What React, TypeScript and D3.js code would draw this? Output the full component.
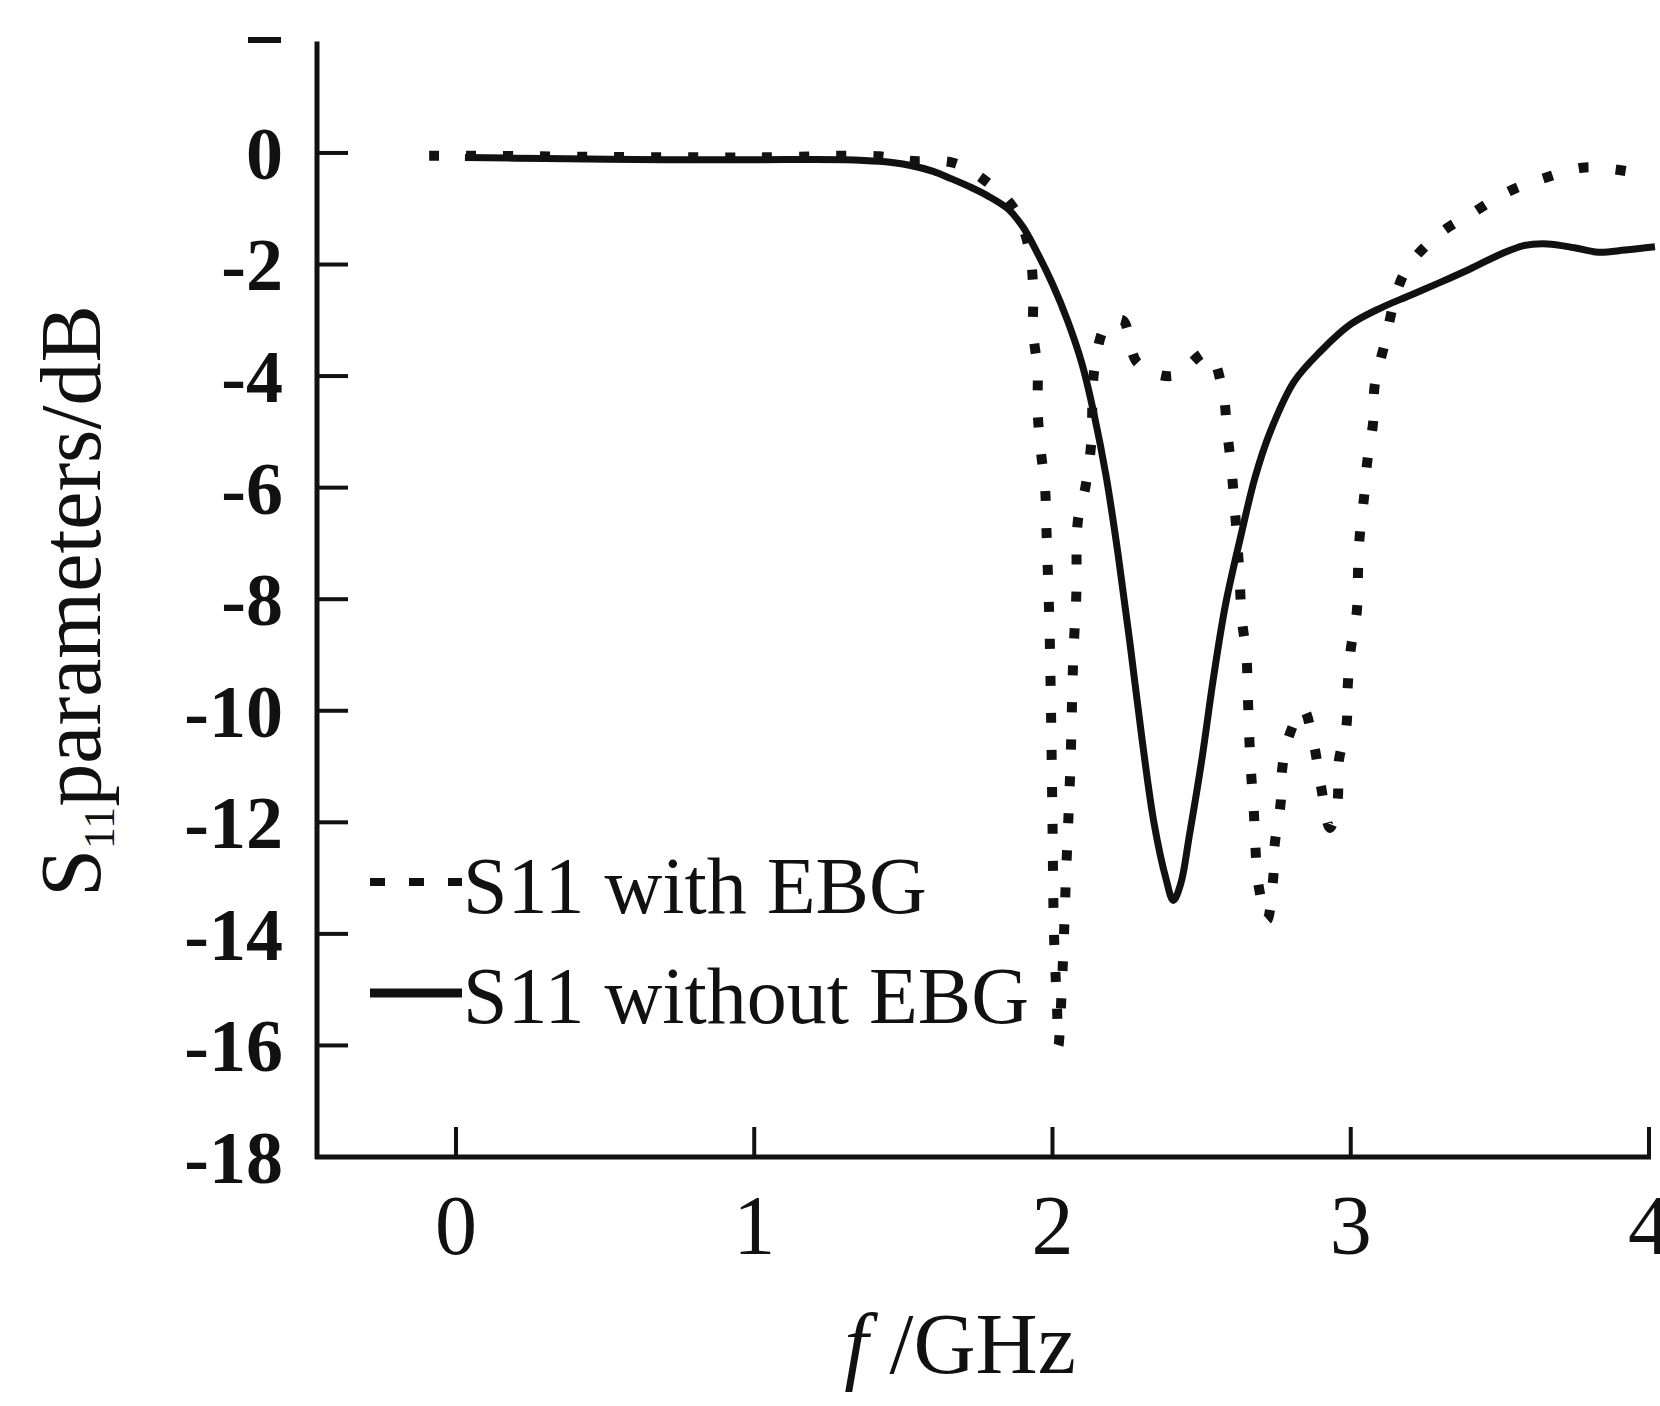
import React from "react";
import * as d3 from "d3";

// ---- data ----
const xTicks = [0, 1, 2, 3, 4];
const yTicks = [0, -2, -4, -6, -8, -10, -12, -14, -16, -18];

const freqNoEBG = [0.03, 0.3, 0.7, 1.0, 1.3, 1.42, 1.52, 1.6, 1.66, 1.72, 1.78, 1.85, 1.9, 1.95, 2.0, 2.05, 2.1, 2.14, 2.18, 2.22, 2.26, 2.3, 2.34, 2.38, 2.405, 2.43, 2.46, 2.5, 2.54, 2.58, 2.63, 2.68, 2.73, 2.81, 2.9, 3.0, 3.1, 3.2, 3.3, 3.4, 3.5, 3.58, 3.66, 3.75, 3.83, 3.92, 4.02];
const s11NoEBG = [-0.08, -0.1, -0.12, -0.12, -0.12, -0.15, -0.22, -0.33, -0.46, -0.6, -0.76, -1.0, -1.32, -1.8, -2.35, -3.0, -3.8, -4.7, -5.8, -7.2, -8.8, -10.5, -12.0, -13.0, -13.4, -13.1, -12.2, -10.9, -9.4, -8.1, -6.9, -5.8, -5.0, -4.1, -3.55, -3.07, -2.78, -2.55, -2.32, -2.08, -1.82, -1.66, -1.63, -1.7, -1.78, -1.74, -1.68];

const freqEBG = [-0.09, 0.03, 0.5, 1.0, 1.42, 1.52, 1.67, 1.78, 1.87, 1.92, 1.935, 1.935, 1.95, 1.95, 1.96, 1.975, 1.98, 1.985, 1.99, 1.995, 2.0, 2.005, 2.015, 2.02, 2.035, 2.045, 2.06, 2.07, 2.08, 2.085, 2.11, 2.13, 2.14, 2.18, 2.235, 2.285, 2.4, 2.52, 2.57, 2.585, 2.6, 2.61, 2.625, 2.635, 2.65, 2.655, 2.66, 2.665, 2.675, 2.68, 2.69, 2.72, 2.74, 2.745, 2.765, 2.77, 2.79, 2.84, 2.875, 2.9, 2.93, 2.955, 2.96, 2.985, 2.99, 3.0, 3.02, 3.025, 3.03, 3.045, 3.055, 3.075, 3.08, 3.11, 3.18, 3.295, 3.41, 3.53, 3.65, 3.785, 3.93];
const s11EBG = [-0.05, -0.05, -0.07, -0.08, -0.06, -0.14, -0.18, -0.52, -0.99, -1.68, -2.4, -3.2, -3.9, -4.6, -5.3, -6.0, -6.8, -7.6, -8.5, -10, -12, -14, -15.3, -16.0, -14.5, -13, -11, -9, -7.9, -6.6, -6.0, -5.2, -3.9, -3.1, -3.0, -3.76, -4.0, -3.58, -4.24, -4.96, -5.67, -6.3, -7.4, -8.36, -9.0, -9.74, -10.5, -11.05, -11.8, -12.4, -13.1, -13.75, -13.0, -12.4, -11.65, -11.05, -10.5, -9.97, -10.57, -11.35, -12.1, -11.65, -10.9, -10.3, -9.55, -8.9, -8.24, -7.4, -6.87, -6.15, -5.55, -4.83, -4.18, -3.5, -2.15, -1.46, -1.07, -0.69, -0.45, -0.26, -0.33];

const legendLabels = ["S11 with EBG", "S11 without EBG"];

const W = 1660;
const H = 1406;
const FONT = "'Liberation Serif', 'Times New Roman', serif";
const INK = "#111";

export default function App() {
  const x = d3.scaleLinear().domain([-0.466, 4]).range([317, 1649]);
  const y = d3.scaleLinear().domain([2, -18]).range([41.4, 1157]);

  const line = d3
    .line<[number, number]>()
    .x((d) => x(d[0]))
    .y((d) => y(d[1]))
    .curve(d3.curveCatmullRom.alpha(0.5));

  const noEbg = freqNoEBG.map((f, i) => [f, s11NoEBG[i]] as [number, number]);
  const ebg = freqEBG.map((f, i) => [f, s11EBG[i]] as [number, number]);

  const x0 = x(-0.466);
  const yBottom = y(-18);

  return (
    <div style={{ position: "absolute", left: 0, top: 0 }}>
      <svg width={W} height={H} viewBox={`0 0 ${W} ${H}`} style={{ display: "block", background: "#fff" }}>
        <rect x={0} y={0} width={W} height={H} fill="#fff" />

        {/* remnant mark at top-left of the cropped axis */}
        <line x1={248} x2={281} y1={40} y2={40} stroke={INK} strokeWidth={6} />

        {/* y axis */}
        <line x1={x0} x2={x0} y1={y(2)} y2={yBottom + 2} stroke={INK} strokeWidth={5} />
        {yTicks.map((t) => (
          <g key={"yt" + t}>
            {t > -18 && <line x1={x0} x2={x0 + 31} y1={y(t)} y2={y(t)} stroke={INK} strokeWidth={4} />}
            <text
              x={283}
              y={y(t)}
              dy="0.35em"
              textAnchor="end"
              fontFamily={FONT}
              fontSize={74}
              fontWeight="bold"
              fill={INK}
            >
              {t === 0 ? "0" : "-" + Math.abs(t)}
            </text>
          </g>
        ))}

        {/* x axis */}
        <line x1={x0 - 2} x2={x(4) + 2} y1={yBottom} y2={yBottom} stroke={INK} strokeWidth={5} />
        {xTicks.map((t) => (
          <g key={"xt" + t}>
            <line x1={x(t)} x2={x(t)} y1={yBottom} y2={yBottom - 30} stroke={INK} strokeWidth={4} />
            <text x={x(t)} y={1254} textAnchor="middle" fontFamily={FONT} fontSize={84} fill={INK}>
              {String(t)}
            </text>
          </g>
        ))}

        {/* axis titles */}
        <text x={960} y={1373} textAnchor="middle" fontFamily={FONT} fontSize={86} fill={INK}>
          <tspan fontStyle="italic">f</tspan>
          <tspan> /GHz</tspan>
        </text>
        <text
          transform="translate(100, 601) rotate(-90)"
          textAnchor="middle"
          fontFamily={FONT}
          fontSize={86}
          fill={INK}
        >
          <tspan>S</tspan>
          <tspan fontSize={44} dy={14}>11</tspan>
          <tspan dy={-14}>parameters/dB</tspan>
        </text>

        {/* curves */}
        <path d={line(noEbg) || ""} fill="none" stroke={INK} strokeWidth={7} strokeLinejoin="round" />
        <path
          d={line(ebg) || ""}
          fill="none"
          stroke={INK}
          strokeWidth={10}
          strokeDasharray="10 27"
          strokeLinecap="butt"
        />

        {/* legend */}
        <line x1={370} x2={462} y1={882} y2={882} stroke={INK} strokeWidth={8} strokeDasharray="15 24" />
        <text x={463} y={913} fontFamily={FONT} fontSize={80} fill={INK}>
          {legendLabels[0]}
        </text>
        <line x1={370} x2={462} y1={993} y2={993} stroke={INK} strokeWidth={9} />
        <text x={463} y={1023} fontFamily={FONT} fontSize={80} fill={INK}>
          {legendLabels[1]}
        </text>
      </svg>
    </div>
  );
}
